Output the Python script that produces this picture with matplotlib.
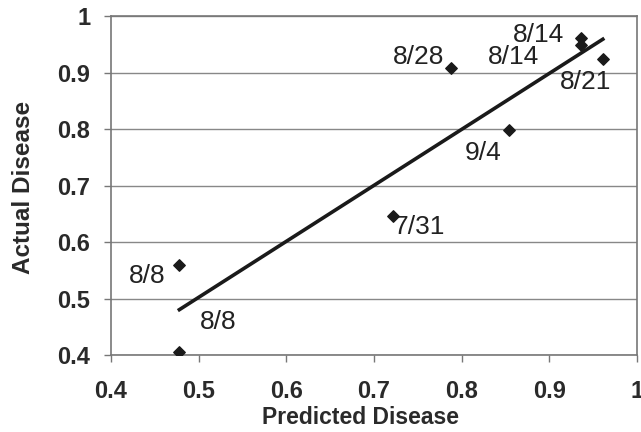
import numpy as np
import matplotlib
matplotlib.use("Agg")
import matplotlib.pyplot as plt

# --- Données ---
predicted = [0.478, 0.478, 0.722, 0.854, 0.788, 0.936, 0.936, 0.961]
actual = [0.405, 0.560, 0.646, 0.798, 0.908, 0.961, 0.948, 0.924]
dates = ["8/8", "8/8", "7/31", "9/4", "8/28", "8/14", "8/14", "8/21"]

# décalage des étiquettes (pixels, par rapport au point)
label_offsets = [(39, 30), (-32, -11), (26, -11), (-26, -23),
                 (-33, 11), (-42, 3), (-67, -12), (-17, -23)]

ticks = [0.4, 0.5, 0.6, 0.7, 0.8, 0.9, 1.0]
tick_labels = ["0.4", "0.5", "0.6", "0.7", "0.8", "0.9", "1"]

plt.rcParams["font.family"] = ["Liberation Sans", "DejaVu Sans"]

dpi = 100
fig = plt.figure(figsize=(641 / dpi, 432 / dpi), dpi=dpi)
ax = fig.add_axes([111 / 641, 1 - 355 / 432, (637 - 111) / 641, (355 - 16) / 432])

# droite de tendance (régression linéaire)
slope, intercept = np.polyfit(predicted, actual, 1)
xl = np.array([min(predicted), max(predicted)])
ax.plot(xl, slope * xl + intercept, color="#1a1a1a", lw=2.6, zorder=3)

ax.scatter(predicted, actual, marker="D", s=34, color="#1a1a1a", zorder=4)

for x, y, txt, (dx, dy) in zip(predicted, actual, dates, label_offsets):
    ax.annotate(txt, (x, y), xytext=(dx * 72 / dpi, dy * 72 / dpi),
                textcoords="offset points", ha="center", va="center",
                fontsize=19, color="#222222")

ax.set_xlim(0.4, 1.0)
ax.set_ylim(0.4, 1.0)
ax.set_xticks(ticks)
ax.set_yticks(ticks)
ax.set_xticklabels(tick_labels, fontsize=17, fontweight="bold", color="#2a2a2a")
ax.set_yticklabels(tick_labels, fontsize=17, fontweight="bold", color="#2a2a2a")
ax.tick_params(direction="out", length=5, width=1, color="#777777")
ax.tick_params(axis="x", pad=13)
ax.tick_params(axis="y", pad=10)

ax.yaxis.grid(True, color="#888888", lw=1)
ax.set_axisbelow(True)
for s in ax.spines.values():
    s.set_color("#777777")
    s.set_linewidth(1.2)

ax.set_xlabel("Predicted Disease", fontsize=16.5, fontweight="bold", color="#2a2a2a", va="center")
ax.set_ylabel("Actual Disease", fontsize=17.5, fontweight="bold", color="#2a2a2a", va="center")
ax.xaxis.set_label_coords((360 - 111) / 526, (355 - 418) / 339)
ax.yaxis.set_label_coords((23 - 111) / 526, (355 - 187) / 339)

fig.savefig("out.png", dpi=dpi)
